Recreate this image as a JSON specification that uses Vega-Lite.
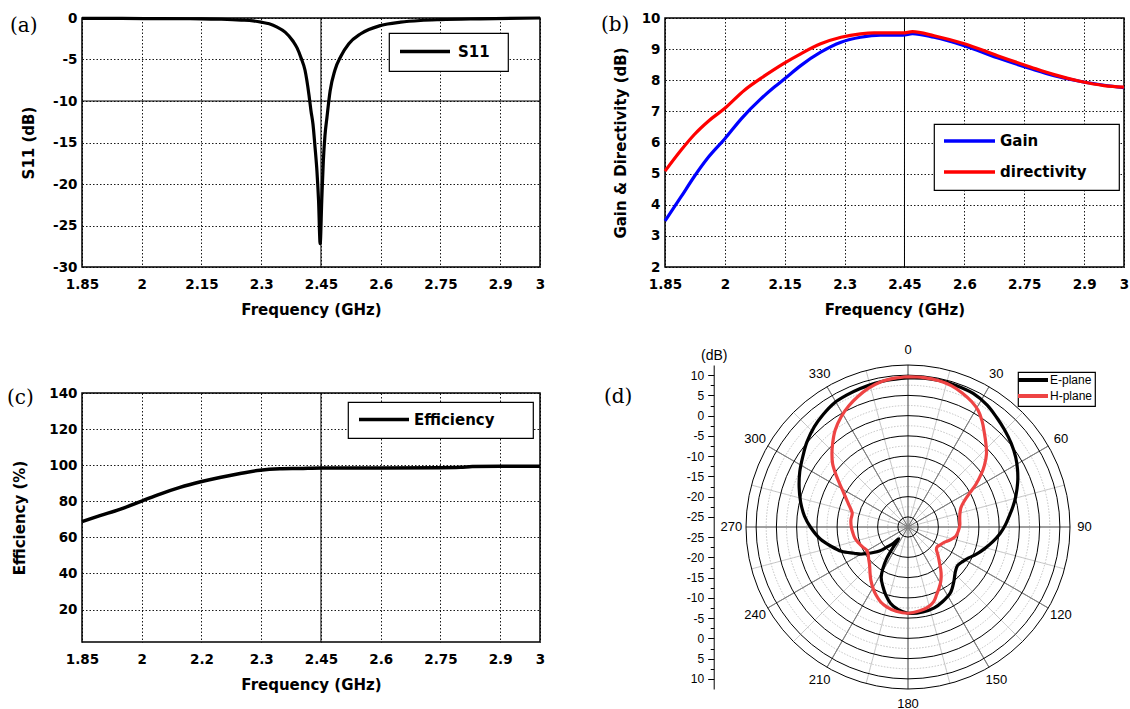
{
"$schema":"https://vega.github.io/schema/vega-lite/v6.json",
"background":"white",
"padding":{"left":6,"top":10,"right":0,"bottom":0},
"config":{
 "font":"DejaVu Sans",
 "view":{"stroke":"black","strokeWidth":1.5},
 "axis":{"labelFont":"DejaVu Sans","labelFontWeight":"bold","labelFontSize":13.5,"labelColor":"black","titleFont":"DejaVu Sans","titleFontWeight":"bold","titleFontSize":15,"titleColor":"black","grid":true,"gridColor":"black","gridDash":[1.5,2],"gridWidth":0.9,"gridOpacity":1,"ticks":false,"domain":false,"labelPadding":5,"labelFlush":false,"labelOverlap":false},
 "legend":{"strokeColor":"black","fillColor":"white","strokeWidth":1.2,"labelFont":"DejaVu Sans","labelFontWeight":"bold","labelFontSize":15,"labelColor":"black"},
 "title":{"font":"DejaVu Serif","fontSize":20,"fontWeight":"normal","anchor":"start","frame":"group","baseline":"middle","offset":0,"color":"black"}
},
"datasets":{
 "s11":[{"f":1.85,"s11":-0.05},{"f":1.95,"s11":-0.05},{"f":2.05,"s11":-0.08},{"f":2.15,"s11":-0.1},{"f":2.2,"s11":-0.15},{"f":2.25,"s11":-0.25},{"f":2.28,"s11":-0.35},{"f":2.3,"s11":-0.5},{"f":2.32,"s11":-0.7},{"f":2.34,"s11":-1.1},{"f":2.36,"s11":-1.7},{"f":2.38,"s11":-2.8},{"f":2.39,"s11":-3.6},{"f":2.4,"s11":-4.8},{"f":2.41,"s11":-6.3},{"f":2.42,"s11":-9.3},{"f":2.425,"s11":-11.2},{"f":2.43,"s11":-12.8},{"f":2.435,"s11":-15.5},{"f":2.44,"s11":-18.5},{"f":2.444,"s11":-22},{"f":2.448,"s11":-27.2},{"f":2.452,"s11":-22},{"f":2.456,"s11":-17.2},{"f":2.46,"s11":-14.2},{"f":2.465,"s11":-12},{"f":2.473,"s11":-8.8},{"f":2.485,"s11":-6.3},{"f":2.5,"s11":-4.6},{"f":2.52,"s11":-3.1},{"f":2.55,"s11":-1.9},{"f":2.6,"s11":-0.9},{"f":2.65,"s11":-0.5},{"f":2.7,"s11":-0.3},{"f":2.75,"s11":-0.2},{"f":2.85,"s11":-0.1},{"f":3,"s11":0}],
 "gd":[
  {"f":1.85,"series":"Gain","v":3.48},{"f":1.89,"series":"Gain","v":4.25},{"f":1.923,"series":"Gain","v":4.9},{"f":1.957,"series":"Gain","v":5.5},{"f":2.0,"series":"Gain","v":6.12},{"f":2.041,"series":"Gain","v":6.76},{"f":2.09,"series":"Gain","v":7.4},{"f":2.124,"series":"Gain","v":7.78},{"f":2.149,"series":"Gain","v":8.04},{"f":2.19,"series":"Gain","v":8.47},{"f":2.24,"series":"Gain","v":8.9},{"f":2.291,"series":"Gain","v":9.22},{"f":2.34,"series":"Gain","v":9.38},{"f":2.39,"series":"Gain","v":9.45},{"f":2.446,"series":"Gain","v":9.45},{"f":2.47,"series":"Gain","v":9.5},{"f":2.524,"series":"Gain","v":9.38},{"f":2.6,"series":"Gain","v":9.11},{"f":2.683,"series":"Gain","v":8.72},{"f":2.767,"series":"Gain","v":8.37},{"f":2.825,"series":"Gain","v":8.15},{"f":2.892,"series":"Gain","v":7.96},{"f":2.95,"series":"Gain","v":7.84},{"f":3.0,"series":"Gain","v":7.76},
  {"f":1.85,"series":"directivity","v":5.08},{"f":1.89,"series":"directivity","v":5.75},{"f":1.923,"series":"directivity","v":6.25},{"f":1.96,"series":"directivity","v":6.7},{"f":2.0,"series":"directivity","v":7.1},{"f":2.049,"series":"directivity","v":7.68},{"f":2.09,"series":"directivity","v":8.06},{"f":2.124,"series":"directivity","v":8.35},{"f":2.149,"series":"directivity","v":8.55},{"f":2.19,"series":"directivity","v":8.85},{"f":2.24,"series":"directivity","v":9.17},{"f":2.291,"series":"directivity","v":9.38},{"f":2.34,"series":"directivity","v":9.49},{"f":2.374,"series":"directivity","v":9.52},{"f":2.446,"series":"directivity","v":9.52},{"f":2.47,"series":"directivity","v":9.56},{"f":2.524,"series":"directivity","v":9.43},{"f":2.6,"series":"directivity","v":9.17},{"f":2.683,"series":"directivity","v":8.79},{"f":2.767,"series":"directivity","v":8.42},{"f":2.825,"series":"directivity","v":8.18},{"f":2.892,"series":"directivity","v":7.96},{"f":2.95,"series":"directivity","v":7.83},{"f":3.0,"series":"directivity","v":7.78}],
 "eff":[{"f":1.85,"e":68.7},{"f":1.895,"e":72.0},{"f":1.945,"e":75.5},{"f":2.0,"e":80.1},{"f":2.046,"e":84.0},{"f":2.096,"e":87.7},{"f":2.148,"e":90.8},{"f":2.196,"e":93.2},{"f":2.247,"e":95.4},{"f":2.297,"e":97.2},{"f":2.347,"e":98.0},{"f":2.397,"e":98.2},{"f":2.45,"e":98.5},{"f":2.6,"e":98.5},{"f":2.75,"e":98.6},{"f":2.8,"e":98.8},{"f":2.83,"e":99.3},{"f":2.9,"e":99.4},{"f":3.0,"e":99.4}],
 "polar":[
  {"plane":"E-plane","angle":0,"dB":9.3},{"plane":"E-plane","angle":6,"dB":9.45},{"plane":"E-plane","angle":12,"dB":9.5},{"plane":"E-plane","angle":19,"dB":9.4},{"plane":"E-plane","angle":26,"dB":9.2},{"plane":"E-plane","angle":33,"dB":8.4},{"plane":"E-plane","angle":39,"dB":7.3},{"plane":"E-plane","angle":45,"dB":6.3},{"plane":"E-plane","angle":51,"dB":5.3},{"plane":"E-plane","angle":57,"dB":4.2},{"plane":"E-plane","angle":62.5,"dB":3.0},{"plane":"E-plane","angle":68,"dB":1.7},{"plane":"E-plane","angle":74,"dB":0.2},{"plane":"E-plane","angle":79,"dB":-1.1},{"plane":"E-plane","angle":84,"dB":-2.4},{"plane":"E-plane","angle":89,"dB":-3.5},{"plane":"E-plane","angle":94,"dB":-4.7},{"plane":"E-plane","angle":100,"dB":-6.3},{"plane":"E-plane","angle":106,"dB":-7.9},{"plane":"E-plane","angle":112,"dB":-9.4},{"plane":"E-plane","angle":117,"dB":-10.7},{"plane":"E-plane","angle":122,"dB":-11.5},{"plane":"E-plane","angle":128,"dB":-12.0},{"plane":"E-plane","angle":134,"dB":-11.3},{"plane":"E-plane","angle":140,"dB":-9.9},{"plane":"E-plane","angle":147,"dB":-8.2},{"plane":"E-plane","angle":155,"dB":-7.2},{"plane":"E-plane","angle":162,"dB":-6.5},{"plane":"E-plane","angle":170,"dB":-6.2},{"plane":"E-plane","angle":180,"dB":-6.2},{"plane":"E-plane","angle":187,"dB":-7.0},{"plane":"E-plane","angle":193,"dB":-8.2},{"plane":"E-plane","angle":198,"dB":-9.8},{"plane":"E-plane","angle":203,"dB":-11.6},{"plane":"E-plane","angle":208,"dB":-13.4},{"plane":"E-plane","angle":211,"dB":-15.4},{"plane":"E-plane","angle":214,"dB":-18.0},{"plane":"E-plane","angle":216,"dB":-21.0},{"plane":"E-plane","angle":218,"dB":-23.8},{"plane":"E-plane","angle":222,"dB":-22.0},{"plane":"E-plane","angle":226,"dB":-20.5},{"plane":"E-plane","angle":230,"dB":-18.3},{"plane":"E-plane","angle":235,"dB":-16.3},{"plane":"E-plane","angle":240,"dB":-14.1},{"plane":"E-plane","angle":244,"dB":-12.7},{"plane":"E-plane","angle":250,"dB":-10.0},{"plane":"E-plane","angle":256,"dB":-7.9},{"plane":"E-plane","angle":262,"dB":-5.7},{"plane":"E-plane","angle":270,"dB":-3.4},{"plane":"E-plane","angle":276,"dB":-1.8},{"plane":"E-plane","angle":283,"dB":-0.3},{"plane":"E-plane","angle":290,"dB":1.1},{"plane":"E-plane","angle":297,"dB":2.5},{"plane":"E-plane","angle":304,"dB":3.8},{"plane":"E-plane","angle":310,"dB":5.1},{"plane":"E-plane","angle":317,"dB":6.4},{"plane":"E-plane","angle":323,"dB":7.3},{"plane":"E-plane","angle":329,"dB":8.1},{"plane":"E-plane","angle":335,"dB":8.4},{"plane":"E-plane","angle":341,"dB":8.65},{"plane":"E-plane","angle":347,"dB":8.9},{"plane":"E-plane","angle":352,"dB":9.1},{"plane":"E-plane","angle":360,"dB":9.3},
  {"plane":"H-plane","angle":0,"dB":9.6},{"plane":"H-plane","angle":6,"dB":9.6},{"plane":"H-plane","angle":12,"dB":9.4},{"plane":"H-plane","angle":17,"dB":9.0},{"plane":"H-plane","angle":22,"dB":8.2},{"plane":"H-plane","angle":27,"dB":7.2},{"plane":"H-plane","angle":31,"dB":6.1},{"plane":"H-plane","angle":35,"dB":4.4},{"plane":"H-plane","angle":39,"dB":2.45},{"plane":"H-plane","angle":43,"dB":0.7},{"plane":"H-plane","angle":47,"dB":-1.0},{"plane":"H-plane","angle":51,"dB":-3.2},{"plane":"H-plane","angle":54,"dB":-5.1},{"plane":"H-plane","angle":58,"dB":-7.8},{"plane":"H-plane","angle":61,"dB":-10.0},{"plane":"H-plane","angle":65,"dB":-12.1},{"plane":"H-plane","angle":70,"dB":-13.6},{"plane":"H-plane","angle":76,"dB":-14.3},{"plane":"H-plane","angle":82,"dB":-14.6},{"plane":"H-plane","angle":88,"dB":-14.7},{"plane":"H-plane","angle":94,"dB":-15.0},{"plane":"H-plane","angle":101,"dB":-15.5},{"plane":"H-plane","angle":107,"dB":-16.6},{"plane":"H-plane","angle":113,"dB":-17.8},{"plane":"H-plane","angle":119,"dB":-18.4},{"plane":"H-plane","angle":124,"dB":-18.8},{"plane":"H-plane","angle":128,"dB":-18.6},{"plane":"H-plane","angle":133,"dB":-17.4},{"plane":"H-plane","angle":139,"dB":-15.6},{"plane":"H-plane","angle":144,"dB":-13.6},{"plane":"H-plane","angle":149,"dB":-11.8},{"plane":"H-plane","angle":153,"dB":-10.6},{"plane":"H-plane","angle":157,"dB":-9.4},{"plane":"H-plane","angle":161,"dB":-8.0},{"plane":"H-plane","angle":166,"dB":-7.1},{"plane":"H-plane","angle":172,"dB":-6.6},{"plane":"H-plane","angle":180,"dB":-6.2},{"plane":"H-plane","angle":188,"dB":-6.5},{"plane":"H-plane","angle":195,"dB":-7.1},{"plane":"H-plane","angle":200,"dB":-7.8},{"plane":"H-plane","angle":205,"dB":-8.9},{"plane":"H-plane","angle":209,"dB":-9.9},{"plane":"H-plane","angle":215,"dB":-11.5},{"plane":"H-plane","angle":220,"dB":-12.9},{"plane":"H-plane","angle":225,"dB":-14.1},{"plane":"H-plane","angle":231,"dB":-15.0},{"plane":"H-plane","angle":236,"dB":-15.6},{"plane":"H-plane","angle":241,"dB":-15.8},{"plane":"H-plane","angle":246,"dB":-15.3},{"plane":"H-plane","angle":252,"dB":-14.7},{"plane":"H-plane","angle":258,"dB":-14.1},{"plane":"H-plane","angle":264,"dB":-13.8},{"plane":"H-plane","angle":270,"dB":-13.5},{"plane":"H-plane","angle":277,"dB":-13.3},{"plane":"H-plane","angle":284,"dB":-13.3},{"plane":"H-plane","angle":289,"dB":-12.3},{"plane":"H-plane","angle":293,"dB":-11.2},{"plane":"H-plane","angle":298,"dB":-9.5},{"plane":"H-plane","angle":302,"dB":-7.7},{"plane":"H-plane","angle":306,"dB":-5.5},{"plane":"H-plane","angle":310,"dB":-3.2},{"plane":"H-plane","angle":314,"dB":-1.4},{"plane":"H-plane","angle":318,"dB":0.3},{"plane":"H-plane","angle":323,"dB":2.4},{"plane":"H-plane","angle":329,"dB":4.4},{"plane":"H-plane","angle":334,"dB":5.8},{"plane":"H-plane","angle":339,"dB":7.0},{"plane":"H-plane","angle":344,"dB":8.1},{"plane":"H-plane","angle":349.5,"dB":9.0},{"plane":"H-plane","angle":355,"dB":9.4},{"plane":"H-plane","angle":360,"dB":9.6}],
 "ringsMajor":[{"dB":-25},{"dB":-20},{"dB":-15},{"dB":-10},{"dB":-5},{"dB":0},{"dB":5},{"dB":10},{"dB":12.5}],
 "ringsMinor":[{"dB":-22.5},{"dB":-17.5},{"dB":-12.5},{"dB":-7.5},{"dB":-2.5},{"dB":2.5},{"dB":7.5}],
 "minorTicks":[{"t":35},{"t":30},{"t":25},{"t":20},{"t":15},{"t":10},{"t":5},{"t":-5},{"t":-10},{"t":-15},{"t":-20},{"t":-25},{"t":-30},{"t":-35}],
 "spokesMajor":[{"angle":0},{"angle":30},{"angle":60},{"angle":90},{"angle":120},{"angle":150},{"angle":180},{"angle":210},{"angle":240},{"angle":270},{"angle":300},{"angle":330}],
 "spokesMinor":[{"angle":15},{"angle":45},{"angle":75},{"angle":105},{"angle":135},{"angle":165},{"angle":195},{"angle":225},{"angle":255},{"angle":285},{"angle":315},{"angle":345}],
 "angleLabels":[{"angle":0,"label":"0"},{"angle":30,"label":"30"},{"angle":60,"label":"60"},{"angle":90,"label":"90"},{"angle":120,"label":"120"},{"angle":150,"label":"150"},{"angle":180,"label":"180"},{"angle":210,"label":"210"},{"angle":240,"label":"240"},{"angle":270,"label":"270"},{"angle":300,"label":"300"},{"angle":330,"label":"330"}]
},
"spacing":52,
"resolve":{"scale":{"color":"independent"},"legend":{"color":"independent"}},
"hconcat":[
 {"spacing":67,"resolve":{"scale":{"color":"independent"},"legend":{"color":"independent"}},
  "vconcat":[
   {"width":458,"height":249,
    "title":{"text":"(a)","dx":-72,"dy":28.5},
    "layer":[
     {"data":{"values":[{}]},"mark":{"type":"rule","color":"black","strokeWidth":1},"encoding":{"x":{"datum":2.45,"type":"quantitative"}}},
     {"data":{"values":[{}]},"mark":{"type":"rule","color":"black","strokeWidth":1},"encoding":{"y":{"datum":-10,"type":"quantitative"}}},
     {"data":{"name":"s11"},"mark":{"type":"line","strokeWidth":3.2,"interpolate":"monotone"},
      "encoding":{
       "x":{"field":"f","type":"quantitative","title":"Frequency (GHz)","scale":{"domain":[1.85,3],"nice":false,"zero":false},"axis":{"values":[1.85,2,2.15,2.3,2.45,2.6,2.75,2.9,3],"labelExpr":"toString(datum.value)","labelPadding":10.5,"titlePadding":11}},
       "y":{"field":"s11","type":"quantitative","title":"S11 (dB)","scale":{"domain":[-30,0],"nice":false,"zero":false},"axis":{"values":[-30,-25,-20,-15,-10,-5,0],"labelExpr":"toString(datum.value)","titlePadding":16}},
       "color":{"datum":"S11","type":"nominal","scale":{"domain":["S11"],"range":["black"]},"legend":{"title":null,"orient":"none","legendX":307,"legendY":15,"symbolType":"M-5,0H5M13,0H13","symbolSize":100,"symbolStrokeWidth":3.5,"symbolOffset":17.5,"labelOffset":25.5,"padding":11}}
      }}
    ]},
   {"width":458,"height":249,
    "title":{"text":"(c)","dx":-75,"dy":25.5},
    "layer":[
     {"data":{"values":[{}]},"mark":{"type":"rule","color":"black","strokeWidth":1},"encoding":{"x":{"datum":2.45,"type":"quantitative"}}},
     {"data":{"name":"eff"},"mark":{"type":"line","strokeWidth":3.5,"interpolate":"monotone"},
      "encoding":{
       "x":{"field":"f","type":"quantitative","title":"Frequency (GHz)","scale":{"domain":[1.85,3],"nice":false,"zero":false},"axis":{"values":[1.85,2,2.15,2.3,2.45,2.6,2.75,2.9,3],"labelExpr":"datum.value == 2.15 ? '2.2' : toString(datum.value)","labelPadding":10.5,"titlePadding":11}},
       "y":{"field":"e","type":"quantitative","title":"Efficiency (%)","scale":{"domain":[2,140],"nice":false,"zero":false},"axis":{"values":[20,40,60,80,100,120,140],"labelExpr":"toString(datum.value)","titlePadding":21}},
       "color":{"datum":"Efficiency","type":"nominal","scale":{"domain":["Efficiency"],"range":["black"]},"legend":{"title":null,"orient":"none","legendX":266,"legendY":9,"symbolType":"M-5,0H5M26.4,0H26.4","symbolSize":100,"symbolStrokeWidth":3.5,"symbolOffset":18.5,"labelOffset":22.5,"padding":10}}
      }}
    ]}
  ]},
 {"spacing":26,"resolve":{"scale":{"color":"independent"},"legend":{"color":"independent"}},
  "vconcat":[
   {"width":459,"height":249,
    "title":{"text":"(b)","dx":-64,"dy":27.5},
    "layer":[
     {"data":{"values":[{}]},"mark":{"type":"rule","color":"black","strokeWidth":1},"encoding":{"x":{"datum":2.45,"type":"quantitative"}}},
     {"data":{"name":"gd"},"mark":{"type":"line","strokeWidth":3.2,"interpolate":"monotone"},
      "encoding":{
       "x":{"field":"f","type":"quantitative","title":"Frequency (GHz)","scale":{"domain":[1.85,3],"nice":false,"zero":false},"axis":{"values":[1.85,2,2.15,2.3,2.45,2.6,2.75,2.9,3],"labelExpr":"toString(datum.value)","labelPadding":10.5,"titlePadding":11}},
       "y":{"field":"v","type":"quantitative","title":"Gain & Directivity (dB)","scale":{"domain":[2,10],"nice":false,"zero":false},"axis":{"values":[2,3,4,5,6,7,8,9,10],"labelExpr":"toString(datum.value)","titlePadding":12.5}},
       "color":{"field":"series","type":"nominal","scale":{"domain":["Gain","directivity"],"range":["#0000ff","#ff0000"]},"legend":{"title":null,"orient":"none","legendX":269,"legendY":106,"symbolType":"M-5.1,0H5.1M26.6,0H26.6","symbolSize":100,"symbolStrokeWidth":3.5,"symbolOffset":18.5,"labelOffset":23,"padding":9.5,"rowPadding":15}}
      }}
    ]},
   {"width":459,"height":324,
    "view":{"stroke":null},
    "title":{"text":"(d)","dx":-61,"dy":67},
    "resolve":{"axis":{"x":"independent","y":"independent"}},
    "layer":[
     {"data":{"name":"ringsMinor"},"mark":{"type":"arc","fill":"transparent","stroke":"#b4b4b4","strokeWidth":0.8,"strokeDash":[1.5,1.5]},
      "encoding":{"x":{"datum":0,"type":"quantitative","scale":{"domain":[-60,53.333],"nice":false,"zero":false},"axis":null},"y":{"datum":0,"type":"quantitative","scale":{"domain":[-40,40],"nice":false,"zero":false},"axis":null},
       "theta":{"datum":0,"type":"quantitative","scale":{"domain":[0,360],"range":[0,6.283185307179586]},"stack":null},"theta2":{"datum":360},
       "radius":{"field":"dB","type":"quantitative","stack":null,"scale":{"type":"linear","domain":[-27.5,12.5],"range":[0,162],"zero":false}},"radius2":{"datum":-27.5}}},
     {"data":{"name":"spokesMinor"},"mark":{"type":"arc","fill":"transparent","stroke":"#b4b4b4","strokeWidth":0.8,"strokeDash":[1.5,1.5]},
      "encoding":{"x":{"datum":0,"type":"quantitative","axis":null},"y":{"datum":0,"type":"quantitative","axis":null},
       "theta":{"field":"angle","type":"quantitative","stack":null},"theta2":{"field":"angle"},
       "radius":{"datum":12.5,"type":"quantitative","stack":null},"radius2":{"datum":-27.5}}},
     {"data":{"name":"spokesMajor"},"mark":{"type":"arc","fill":"transparent","stroke":"#808080","strokeWidth":1},
      "encoding":{"x":{"datum":0,"type":"quantitative","axis":null},"y":{"datum":0,"type":"quantitative","axis":null},
       "theta":{"field":"angle","type":"quantitative","stack":null},"theta2":{"field":"angle"},
       "radius":{"datum":12.5,"type":"quantitative","stack":null},"radius2":{"datum":-27.5}}},
     {"data":{"name":"ringsMajor"},"mark":{"type":"arc","fill":"transparent","stroke":"black","strokeWidth":1},
      "encoding":{"x":{"datum":0,"type":"quantitative","axis":null},"y":{"datum":0,"type":"quantitative","axis":null},
       "theta":{"datum":0,"type":"quantitative","stack":null},"theta2":{"datum":360},
       "radius":{"field":"dB","type":"quantitative","stack":null},"radius2":{"datum":-27.5}}},
     {"data":{"name":"angleLabels"},"mark":{"type":"text","font":"Liberation Sans","fontSize":13,"color":"black"},
      "encoding":{"x":{"datum":0,"type":"quantitative","axis":null},"y":{"datum":0,"type":"quantitative","axis":null},
       "theta":{"field":"angle","type":"quantitative","stack":null},
       "radius":{"datum":16.1,"type":"quantitative","stack":null},
       "text":{"field":"label"}}},
     {"data":{"name":"minorTicks"},"mark":{"type":"point","opacity":0},
      "encoding":{"x":{"datum":0,"type":"quantitative","axis":null},
       "y":{"field":"t","type":"quantitative","axis":{"orient":"left","offset":-48.7,"zindex":1,"values":[35,30,25,20,15,10,5,-5,-10,-15,-20,-25,-30,-35],"labels":false,"grid":false,"ticks":true,"tickSize":3.5,"tickColor":"black","tickWidth":1,"domain":false,"title":null}}}},
     {"data":{"name":"polar"},
      "transform":[{"calculate":"(datum.dB + 27.5) * sin(datum.angle * PI / 180)","as":"px"},{"calculate":"(datum.dB + 27.5) * cos(datum.angle * PI / 180)","as":"py"}],
      "mark":{"type":"line","strokeWidth":3.2,"interpolate":"catmull-rom"},
      "encoding":{
       "x":{"field":"px","type":"quantitative","axis":null},
       "y":{"field":"py","type":"quantitative","axis":{"orient":"left","offset":-48.7,"zindex":1,"values":[37.5,32.5,27.5,22.5,17.5,12.5,7.5,2.5,-2.5,-7.5,-12.5,-17.5,-22.5,-27.5,-32.5,-37.5],"labelExpr":"toString(abs(datum.value) - 27.5)","grid":false,"ticks":true,"tickSize":6,"tickColor":"black","tickWidth":1,"domain":true,"domainColor":"black","domainWidth":1,"labelFont":"Liberation Sans","labelFontWeight":"normal","labelFontSize":12,"labelPadding":4,"title":"(dB)","titleAngle":0,"titleX":0,"titleY":-3,"titleAlign":"center","titleBaseline":"bottom","titleFont":"Liberation Sans","titleFontWeight":"normal","titleFontSize":14}},
       "order":{"field":"angle","type":"quantitative"},
       "color":{"field":"plane","type":"nominal","scale":{"domain":["E-plane","H-plane"],"range":["black","#ee4444"]},"legend":{"title":null,"orient":"none","legendX":353,"legendY":7,"symbolType":"M-3.75,0H3.75","symbolSize":64,"symbolStrokeWidth":4,"symbolOffset":7,"labelOffset":11,"padding":2,"rowPadding":0,"labelFont":"Liberation Sans","labelFontWeight":"normal","labelFontSize":12}}
      }}
    ]}
  ]}
]
}
